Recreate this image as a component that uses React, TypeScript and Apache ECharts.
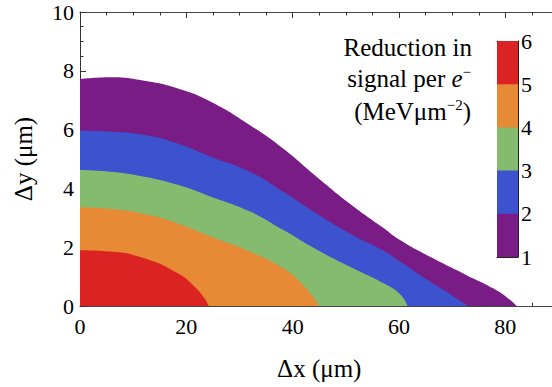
import React, { useEffect, useRef } from "react";
import * as echarts from "echarts";

// Contour boundaries [Δx (µm), Δy (µm)] for each level (1..5)
const contour1: [number, number][] = [[0, 7.72], [5.8, 7.78], [12.1, 7.66], [18.4, 7.4], [24.6, 6.95], [31.9, 6.16], [38.2, 5.36], [44.5, 4.4], [50.7, 3.49], [57.1, 2.65], [60.1, 2.25], [66.4, 1.62], [72.7, 1.05], [77.7, 0.6], [80.8, 0.22], [82.1, 0]];
const contour2: [number, number][] = [[0, 5.96], [5.8, 5.93], [12.1, 5.82], [18.4, 5.53], [24.6, 5.08], [31.9, 4.57], [38.2, 3.89], [44.5, 3.15], [50.7, 2.47], [57.1, 1.88], [60.1, 1.52], [65.8, 0.83], [69.5, 0.42], [71.8, 0.14], [73.0, 0]];
const contour3: [number, number][] = [[0, 4.63], [5.8, 4.57], [12.1, 4.4], [18.4, 4.12], [24.6, 3.72], [31.9, 3.22], [38.2, 2.59], [44.5, 1.92], [50.7, 1.34], [57.1, 0.77], [60.2, 0.4], [61.6, 0]];
const contour4: [number, number][] = [[0, 3.36], [5.8, 3.3], [12.1, 3.13], [18.4, 2.81], [24.6, 2.36], [31.9, 1.85], [38.2, 1.28], [41.3, 0.83], [43.9, 0.3], [44.9, 0]];
const contour5: [number, number][] = [[0, 1.9], [5.8, 1.85], [12.1, 1.62], [18.4, 1.11], [21.5, 0.66], [23.4, 0.26], [24.2, 0]];

const levels = [1, 2, 3, 4, 5, 6];
const bandColors = ["#791c85", "#3d52cf", "#85bb6f", "#e68a35", "#dc2323"];
const xTickLabels = ["0", "20", "40", "60", "80"];
const yTickLabels = ["0", "2", "4", "6", "8", "10"];

const FONT = "'Liberation Serif', 'DejaVu Serif', 'Times New Roman', serif";

export default function App() {
  const ref = useRef<HTMLDivElement>(null);
  useEffect(() => {
    if (!ref.current) return;
    const chart = echarts.init(ref.current, null, { renderer: "svg" });
    const contours = [contour1, contour2, contour3, contour4, contour5];

    const contourSeries = contours.map((c, i) => ({
      type: "line",
      name: "level" + levels[i],
      xAxisIndex: 0,
      yAxisIndex: 0,
      data: c,
      smooth: 0.5,
      showSymbol: false,
      symbol: "none",
      lineStyle: { width: 0, color: bandColors[i] },
      areaStyle: { color: bandColors[i], opacity: 1 },
      z: 2 + i,
    }));

    // colorbar: overlapping bars drawn from top level down
    const barSeries = bandColors
      .map((col, i) => ({
        type: "bar",
        xAxisIndex: 2,
        yAxisIndex: 1,
        data: [levels[i + 1]],
        barWidth: "100%",
        barGap: "-100%",
        itemStyle: { color: col },
        z: 2 + (bandColors.length - i),
      }))
      .reverse();

    const supStyle = { fontFamily: FONT, fontSize: 15, lineHeight: 15, verticalAlign: "top", fill: "#000" };
    const mainRich = {
      n: { fontFamily: FONT, fontSize: 25, lineHeight: 28, fill: "#000" },
      i: { fontFamily: FONT, fontSize: 25, lineHeight: 28, fontStyle: "italic", fill: "#000" },
      s: supStyle,
    };

    chart.setOption({
      animation: false,
      textStyle: { fontFamily: FONT },
      grid: [
        { left: 80, top: 12, width: 478.5, height: 294 },
        { left: 497, top: 41, width: 21, height: 216 },
      ],
      xAxis: [
        {
          type: "value",
          gridIndex: 0,
          min: 0,
          max: 90,
          interval: 20,
          name: "Δx (μm)",
          nameLocation: "middle",
          nameGap: 50,
          nameTextStyle: { fontFamily: FONT, fontSize: 25, color: "#000" },
          axisLine: { show: true, onZero: false, lineStyle: { color: "#444", width: 1 } },
          axisTick: { show: true, inside: true, length: 6, lineStyle: { color: "#333" } },
          minorTick: { show: true, splitNumber: 4, length: 3.5, lineStyle: { color: "#333" } },
          splitLine: { show: false },
          axisLabel: {
            fontFamily: FONT,
            fontSize: 22,
            color: "#000",
            margin: 9,
            formatter: (v: number) => xTickLabels[Math.round(v / 20)] ?? "",
          },
        },
        {
          type: "value",
          gridIndex: 0,
          position: "top",
          min: 0,
          max: 90,
          interval: 20,
          axisLine: { show: true, onZero: false, lineStyle: { color: "#444", width: 1 } },
          axisTick: { show: true, inside: true, length: 6, lineStyle: { color: "#333" } },
          minorTick: { show: true, splitNumber: 4, length: 3.5, lineStyle: { color: "#333" } },
          splitLine: { show: false },
          axisLabel: { show: false },
        },
        {
          type: "category",
          gridIndex: 1,
          data: [""],
          axisLine: { show: true, lineStyle: { color: "#222" } },
          axisTick: { show: false },
          axisLabel: { show: false },
        },
        {
          type: "category",
          gridIndex: 1,
          position: "top",
          data: [""],
          axisLine: { show: true, lineStyle: { color: "#222" } },
          axisTick: { show: false },
          axisLabel: { show: false },
        },
      ],
      yAxis: [
        {
          type: "value",
          gridIndex: 0,
          min: 0,
          max: 10,
          interval: 2,
          name: "Δy (μm)",
          nameLocation: "middle",
          nameRotate: 90,
          nameGap: 44,
          nameTextStyle: { fontFamily: FONT, fontSize: 25, color: "#000" },
          axisLine: { show: true, onZero: false, lineStyle: { color: "#333", width: 1 } },
          axisTick: { show: true, inside: true, length: 6, lineStyle: { color: "#333" } },
          minorTick: { show: true, splitNumber: 4, length: 3.5, lineStyle: { color: "#333" } },
          splitLine: { show: false },
          axisLabel: {
            fontFamily: FONT,
            fontSize: 22,
            color: "#000",
            margin: 6,
            formatter: (v: number) => yTickLabels[Math.round(v / 2)] ?? "",
          },
        },
        {
          type: "value",
          gridIndex: 1,
          position: "right",
          min: levels[0],
          max: levels[levels.length - 1],
          interval: 1,
          axisLine: { show: true, onZero: false, lineStyle: { color: "#222" } },
          axisTick: { show: true, inside: true, length: 3, lineStyle: { color: "#222" } },
          splitLine: { show: false },
          axisLabel: { fontFamily: FONT, fontSize: 22, color: "#000", margin: 3 },
        },
        {
          type: "value",
          gridIndex: 1,
          position: "left",
          min: levels[0],
          max: levels[levels.length - 1],
          interval: 1,
          axisLine: { show: true, onZero: false, lineStyle: { color: "#222" } },
          axisTick: { show: false },
          splitLine: { show: false },
          axisLabel: { show: false },
        },
      ],
      graphic: [
        {
          type: "text",
          x: 472,
          y: 47,
          z: 100,
          style: { text: "{n|Reduction in}", rich: mainRich, fontFamily: FONT, fontSize: 25, align: "right", verticalAlign: "middle" },
        },
        {
          type: "text",
          x: 471,
          y: 78,
          z: 100,
          style: { text: "{n|signal per }{i|e}{s|−}", rich: mainRich, fontFamily: FONT, fontSize: 25, align: "right", verticalAlign: "middle" },
        },
        {
          type: "text",
          x: 471,
          y: 111,
          z: 100,
          style: { text: "{n|(MeVμm}{s|−2}{n|)}", rich: mainRich, fontFamily: FONT, fontSize: 25, align: "right", verticalAlign: "middle" },
        },
      ],
      series: [...contourSeries, ...barSeries],
    });
    return () => chart.dispose();
  }, []);

  return (
    <div style={{ position: "absolute", left: 0, top: 0, width: 552, height: 387, overflow: "hidden", background: "#fff" }}>
      <div ref={ref} style={{ width: 570, height: 387 }} />
    </div>
  );
}
